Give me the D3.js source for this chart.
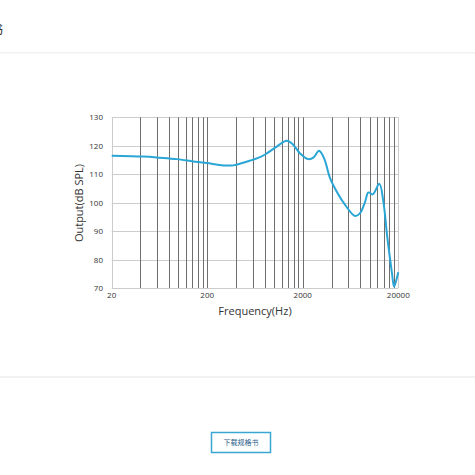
<!DOCTYPE html>
<html lang="zh">
<head>
<meta charset="utf-8">
<title>Frequency response</title>
<script src="https://d3js.org/d3.v7.min.js"></script>
<style>
  body { margin: 0; background: #fff; font-family: "Open Sans", "Noto Sans", sans-serif; }
  .hgrid { stroke: #cccccc; stroke-width: 1; }
  .vgrid { stroke: #6e6e6e; stroke-width: 1; }
  .tick-label { font-size: 8px; fill: #333; }
  .axis-title { font-size: 11px; fill: #333; }
  .curve { fill: none; stroke: #29a6d6; stroke-width: 2; stroke-linejoin: round; }
</style>
</head>
<body>
<script>
var freqs = [20, 43, 64, 96, 143, 198, 295, 375, 514, 714, 840, 1069, 1359, 1595, 1875, 2293, 2580, 2960, 3340, 3860, 4540, 5550, 7060, 7960, 8980, 9730, 10800, 12680, 13960, 15380, 17100, 18070, 19280, 20000];
var spl   = [116.5, 116.2, 115.8, 115.3, 114.5, 113.9, 113.1, 113.1, 114.4, 116.0, 117.3, 119.7, 121.8, 120.3, 117.3, 115.3, 115.8, 118.2, 115.6, 108.6, 103.8, 99.2, 95.3, 96.3, 100.3, 103.6, 102.9, 106.6, 100.3, 87.5, 75.7, 70.5, 73.4, 75.5];
var yTicks = [70, 80, 90, 100, 110, 120, 130];
var xTickLabels = [20, 200, 2000, 20000];
var gridFreqs = [20, 40, 60, 80, 100, 120, 140, 160, 180, 200,
                 400, 600, 800, 1000, 1200, 1400, 1600, 1800, 2000,
                 4000, 6000, 8000, 10000, 12000, 14000, 16000, 18000, 20000];

var W = 475, H = 475;
var svg = d3.select("body").append("svg").attr("width", W).attr("height", H);

// page bits around the chart
svg.append("text").attr("x", -10).attr("y", 34).attr("font-size", 13).attr("fill", "#333")
  .attr("font-family", "Noto Sans CJK SC").text("书");
svg.append("rect").attr("x", 0).attr("y", 52).attr("width", W).attr("height", 1.5).attr("fill", "#f2f2f2");
svg.append("rect").attr("x", 0).attr("y", 376).attr("width", W).attr("height", 2).attr("fill", "#f2f2f2");

var x = d3.scaleLog().domain([20, 20000]).range([111.7, 398.3]);
var y = d3.scaleLinear().domain([70, 130]).range([288, 117.3]);

var g = svg.append("g");

g.selectAll(".hgrid").data(yTicks).enter().append("line")
  .attr("class", "hgrid")
  .attr("x1", x(20)).attr("x2", x(20000))
  .attr("y1", function(d) { return Math.round(y(d)) + 0.5; })
  .attr("y2", function(d) { return Math.round(y(d)) + 0.5; });

g.selectAll(".vgrid").data(gridFreqs).enter().append("line")
  .attr("class", "vgrid")
  .style("stroke", function(d) { return (d === 20 || d === 20000) ? "#cccccc" : null; })
  .attr("x1", function(d) { return Math.round(x(d)) + 0.5; })
  .attr("x2", function(d) { return Math.round(x(d)) + 0.5; })
  .attr("y1", y(130)).attr("y2", y(70));

g.selectAll(".ylab").data(yTicks).enter().append("text")
  .attr("class", "tick-label")
  .attr("text-anchor", "end")
  .attr("x", 103).attr("y", function(d) { return y(d) + 3; })
  .text(function(d) { return d; });

g.selectAll(".xlab").data(xTickLabels).enter().append("text")
  .attr("class", "tick-label")
  .attr("text-anchor", "middle")
  .attr("x", function(d) { return x(d); }).attr("y", 298)
  .text(function(d) { return d; });

var line = d3.line()
  .x(function(d, i) { return x(freqs[i]); })
  .y(function(d) { return y(d); })
  .curve(d3.curveCatmullRom.alpha(0.5));

g.append("path").datum(spl).attr("class", "curve").attr("d", line);

svg.append("text").attr("class", "axis-title").attr("text-anchor", "middle")
  .attr("x", 255).attr("y", 315).text("Frequency(Hz)");
svg.append("text").attr("class", "axis-title").attr("text-anchor", "middle")
  .attr("transform", "translate(83,203) rotate(-90)").text("Output(dB SPL)");

// download button
svg.append("rect").attr("x", 211.5).attr("y", 432.5).attr("width", 59).attr("height", 20)
  .attr("fill", "#fff").attr("stroke", "#3aa6d2").attr("stroke-width", 1.5);
svg.append("text").attr("x", 241).attr("y", 445).attr("text-anchor", "middle")
  .attr("font-size", 7).attr("fill", "#2b5f8a").attr("font-family", "Noto Sans CJK SC")
  .text("下载规格书");
</script>
</body>
</html>
